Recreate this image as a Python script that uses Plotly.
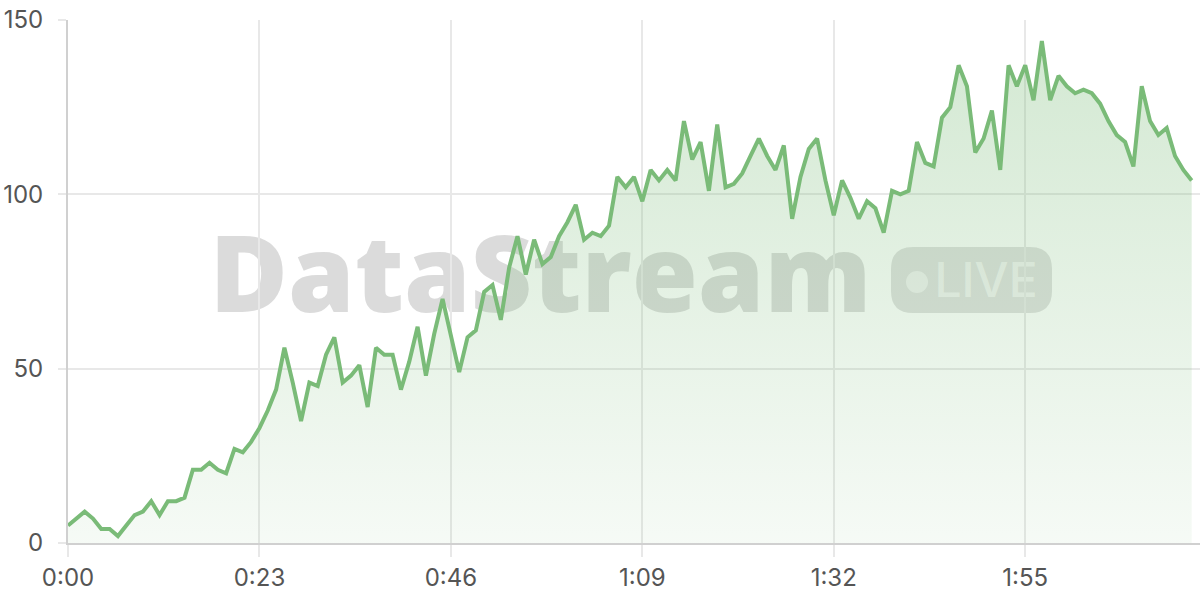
import plotly.graph_objects as go

# ---- data ----
seconds = list(range(136))
values = [5, 7, 9, 7, 4, 4, 2, 5, 8, 9, 12, 8, 12, 12, 13, 21, 21, 23, 21, 20,
          27, 26, 29, 33, 38, 44, 56, 46, 35, 46, 45, 54, 59, 46, 48, 51, 39, 56, 54, 54,
          44, 52, 62, 48, 60, 70, 59, 49, 59, 61, 72, 74, 64, 79, 88, 77, 87, 80, 82, 88,
          92, 97, 87, 89, 88, 91, 105, 102, 105, 98, 107, 104, 107, 104, 121, 110, 115, 101, 120, 102,
          103, 106, 111, 116, 111, 107, 114, 93, 105, 113, 116, 104, 94, 104, 99, 93, 98, 96, 89, 101,
          100, 101, 115, 109, 108, 122, 125, 137, 131, 112, 116, 124, 107, 137, 131, 137, 127, 144, 127, 134,
          131, 129, 130, 129, 126, 121, 117, 115, 108, 131, 121, 117, 119, 111, 107, 104]
tick_vals = [0, 23, 46, 69, 92, 115]
tick_text = ["0:00", "0:23", "0:46", "1:09", "1:32", "1:55"]
y_ticks = [0, 50, 100, 150]

W, H = 1200, 600
ML, MR, MT, MB = 68, 0, 20, 57
PW, PH = W - ML - MR, H - MT - MB


def px(x):
    return (x - ML) / PW


def py(y):
    return (H - MB - y) / PH


LINE = "rgb(122,187,120)"

fig = go.Figure()
fig.add_trace(go.Scatter(
    x=seconds, y=values, mode="lines",
    line=dict(color=LINE, width=4),
    fill="tozeroy",
    fillgradient=dict(type="vertical", start=0, stop=150,
                      colorscale=[[0, "rgba(122,187,120,0.07)"], [1, "rgba(122,187,120,0.34)"]]),
    hoverinfo="skip", showlegend=False,
))


def rrect(x0, y0, x1, y1, r):
    rx, ry = r / PW, r / PH
    X0, X1 = px(x0), px(x1)
    Y0, Y1 = py(y1), py(y0)  # bottom, top
    return (f"M {X0+rx},{Y0} L {X1-rx},{Y0} Q {X1},{Y0} {X1},{Y0+ry} "
            f"L {X1},{Y1-ry} Q {X1},{Y1} {X1-rx},{Y1} L {X0+rx},{Y1} "
            f"Q {X0},{Y1} {X0},{Y1-ry} L {X0},{Y0+ry} Q {X0},{Y0} {X0+rx},{Y0} Z")


WM = "rgba(115,115,115,0.26)"
shapes = [
    dict(type="rect", xref="paper", yref="paper", layer="below",
         x0=px(198), x1=px(883), y0=py(327), y1=py(227),
         line=dict(width=0), fillcolor="rgba(0,0,0,0)",
         label=dict(text="DataStream", textposition="middle center",
                    font=dict(family="Open Sans", size=107, color=WM, weight=800))),
    dict(type="path", xref="paper", yref="paper", layer="below",
         path=rrect(891, 247, 1052, 313, 22),
         line=dict(width=0), fillcolor="rgba(115,115,115,0.22)"),
    dict(type="circle", xref="paper", yref="paper", layer="below",
         x0=px(906), x1=px(928), y0=py(293), y1=py(271),
         line=dict(width=0), fillcolor="rgba(255,255,255,0.55)"),
    dict(type="rect", xref="paper", yref="paper", layer="below",
         x0=px(934), x1=px(1038), y0=py(300), y1=py(257),
         line=dict(width=0), fillcolor="rgba(0,0,0,0)",
         label=dict(text="LIVE", textposition="middle center",
                    font=dict(family="Inter", size=48, color="rgba(255,255,255,0.62)", weight=500))),
]

fig.update_layout(
    width=W, height=H,
    margin=dict(l=ML, r=MR, t=MT, b=MB, pad=0),
    paper_bgcolor="white", plot_bgcolor="white",
    shapes=shapes,
    xaxis=dict(range=[0, 136], tickvals=tick_vals, ticktext=tick_text,
               showgrid=True, gridcolor="#e8e8e8", gridwidth=1.5,
               showline=True, linecolor="#d0d0d0", linewidth=2,
               ticks="outside", ticklen=12, tickcolor="#e8e8e8", tickwidth=1.5,
               tickfont=dict(family="Inter", size=24, color="#555555"),
               zeroline=False, fixedrange=True, automargin=False),
    yaxis=dict(range=[0, 150], tickvals=y_ticks,
               showgrid=True, gridcolor="#e8e8e8", gridwidth=1.5,
               showline=True, linecolor="#d0d0d0", linewidth=2,
               ticks="outside", ticklen=8, tickcolor="#e8e8e8", tickwidth=1.5,
               ticklabelstandoff=10,
               tickfont=dict(family="Inter", size=24, color="#555555"),
               zeroline=False, fixedrange=True, automargin=False),
)

fig.write_html("out.html", config={"displayModeBar": False},
               post_script="document.body.style.margin='0';")
